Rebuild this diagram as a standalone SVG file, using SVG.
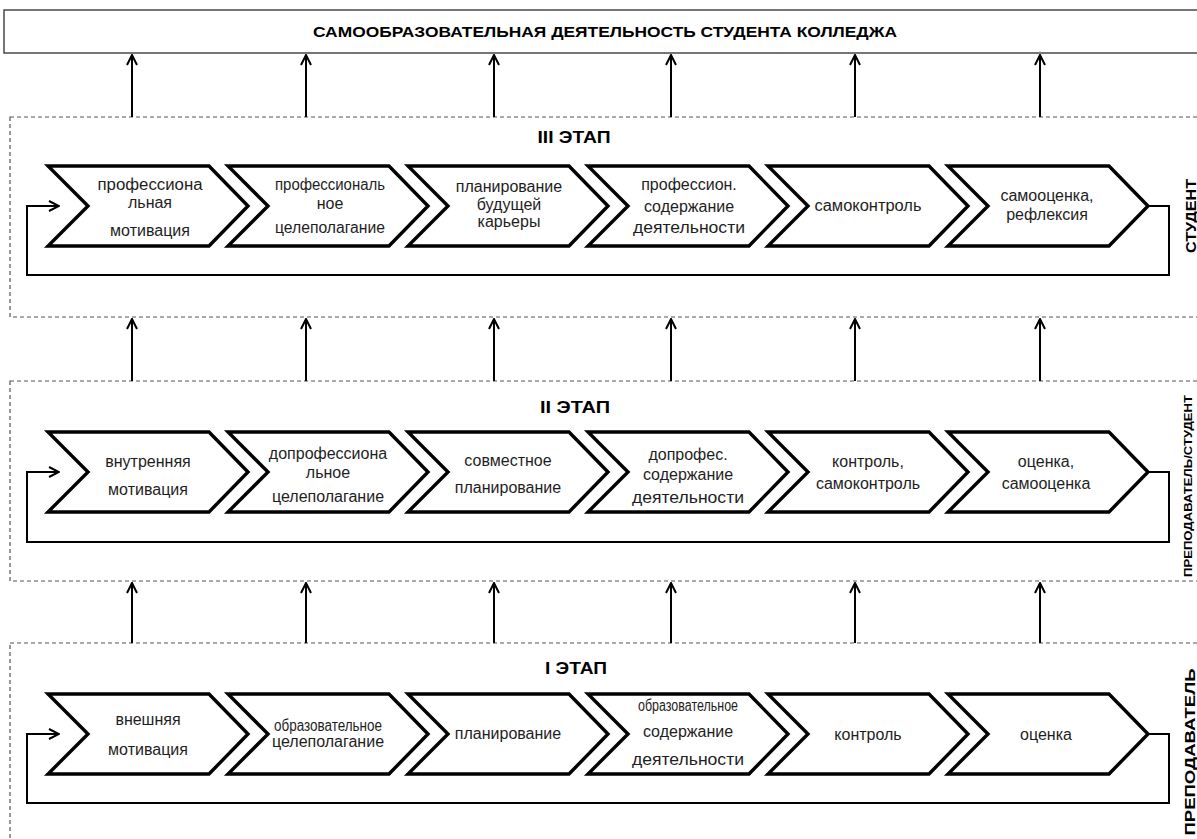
<svg xmlns="http://www.w3.org/2000/svg" width="1197" height="839" viewBox="0 0 1197 839">
<defs>
<style>
.bg{fill:#ffffff}
.top{fill:#ffffff;stroke:#4a4a4a;stroke-width:1.5}
.stage{fill:none;stroke:#555555;stroke-width:1.2;stroke-dasharray:4 3}
.chev{fill:#ffffff;stroke:#000000;stroke-width:3.4;stroke-linejoin:miter}
.conn{fill:none;stroke:#000000;stroke-width:2}
.t{font-family:"Liberation Sans",Arial,sans-serif;fill:#1e1e1e;text-anchor:middle;font-size:16px}
.b{font-family:"Liberation Sans",Arial,sans-serif;fill:#000000;text-anchor:middle;font-weight:bold}
</style>
<marker id="ah" viewBox="0 0 12 12" refX="11" refY="6" markerWidth="12" markerHeight="12" markerUnits="userSpaceOnUse" orient="auto">
<path d="M1,1 L11,6 L1,11" fill="none" stroke="#000" stroke-width="2"/>
</marker>
</defs>
<rect class="bg" x="0" y="0" width="1197" height="839"/>

<g id="title">
<rect class="top" x="4" y="10" width="1200" height="43"/>
<text class="b" x="605" y="37" font-size="15" textLength="584" lengthAdjust="spacingAndGlyphs">САМООБРАЗОВАТЕЛЬНАЯ ДЕЯТЕЛЬНОСТЬ СТУДЕНТА КОЛЛЕДЖА</text>
</g>

<g id="stage3">
<rect class="stage" x="10" y="117" width="1195" height="200"/>
<text class="b" x="574" y="143" font-size="16" textLength="73" lengthAdjust="spacingAndGlyphs">III ЭТАП</text>
<text class="b" font-size="14" transform="translate(1196,216) rotate(-90)" textLength="74" lengthAdjust="spacingAndGlyphs">СТУДЕНТ</text>
</g>
<g id="s3c1"><polygon class="chev" points="48,166 209,166 248,206 209,246 48,246 88,206"/>
<text class="t" x="150" y="190" textLength="105" lengthAdjust="spacingAndGlyphs">профессиона</text><text class="t" x="150" y="208">льная</text><text class="t" x="150" y="236">мотивация</text></g>
<g id="s3c2"><polygon class="chev" points="228,166 389,166 428,206 389,246 228,246 268,206"/>
<text class="t" x="330" y="190" textLength="110" lengthAdjust="spacingAndGlyphs">профессиональ</text><text class="t" x="330" y="209">ное</text><text class="t" x="330" y="233" textLength="110" lengthAdjust="spacingAndGlyphs">целеполагание</text></g>
<g id="s3c3"><polygon class="chev" points="408,166 569,166 608,206 569,246 408,246 448,206"/>
<text class="t" x="509" y="192">планирование</text><text class="t" x="509" y="210">будущей</text><text class="t" x="509" y="227">карьеры</text></g>
<g id="s3c4"><polygon class="chev" points="588,166 749,166 788,206 749,246 588,246 628,206"/>
<text class="t" x="689" y="190">профессион.</text><text class="t" x="689" y="212">содержание</text><text class="t" x="689" y="233" textLength="112" lengthAdjust="spacingAndGlyphs">деятельности</text></g>
<g id="s3c5"><polygon class="chev" points="768,166 929,166 968,206 929,246 768,246 808,206"/>
<text class="t" x="868" y="211" textLength="107" lengthAdjust="spacingAndGlyphs">самоконтроль</text></g>
<g id="s3c6"><polygon class="chev" points="948,166 1109,166 1148,206 1109,246 948,246 988,206"/>
<text class="t" x="1047" y="201">самооценка,</text><text class="t" x="1047" y="220">рефлексия</text></g>

<g id="stage2">
<rect class="stage" x="10" y="381" width="1195" height="200"/>
<text class="b" x="575" y="413" font-size="16" textLength="70" lengthAdjust="spacingAndGlyphs">II ЭТАП</text>
<text class="b" font-size="11" transform="translate(1192,486) rotate(-90)" textLength="182" lengthAdjust="spacingAndGlyphs">ПРЕПОДАВАТЕЛЬ/СТУДЕНТ</text>
</g>
<g id="s2c1"><polygon class="chev" points="48,432 209,432 248,472 209,512 48,512 88,472"/>
<text class="t" x="148" y="467" font-size="16.5">внутренняя</text><text class="t" x="148" y="495" font-size="16.5">мотивация</text></g>
<g id="s2c2"><polygon class="chev" points="228,432 389,432 428,472 389,512 228,512 268,472"/>
<text class="t" x="328" y="459" font-size="14.5">допрофессиона</text><text class="t" x="328" y="478" font-size="14.5">льное</text><text class="t" x="328" y="502" font-size="14.5">целеполагание</text></g>
<g id="s2c3"><polygon class="chev" points="408,432 569,432 608,472 569,512 408,512 448,472"/>
<text class="t" x="508" y="466" font-size="14.5">совместное</text><text class="t" x="508" y="493" font-size="14.5">планирование</text></g>
<g id="s2c4"><polygon class="chev" points="588,432 749,432 788,472 749,512 588,512 628,472"/>
<text class="t" x="688" y="460" font-size="15">допрофес.</text><text class="t" x="688" y="480">содержание</text><text class="t" x="688" y="503" textLength="112" lengthAdjust="spacingAndGlyphs">деятельности</text></g>
<g id="s2c5"><polygon class="chev" points="768,432 929,432 968,472 929,512 768,512 808,472"/>
<text class="t" x="868" y="467">контроль,</text><text class="t" x="868" y="489" font-size="13.5">самоконтроль</text></g>
<g id="s2c6"><polygon class="chev" points="948,432 1109,432 1148,472 1109,512 948,512 988,472"/>
<text class="t" x="1046" y="467">оценка,</text><text class="t" x="1046" y="489" font-size="15">самооценка</text></g>

<g id="stage1">
<rect class="stage" x="10" y="643" width="1195" height="215"/>
<text class="b" x="576" y="674" font-size="16" textLength="62" lengthAdjust="spacingAndGlyphs">I ЭТАП</text>
<text class="b" font-size="15.5" transform="translate(1195,752) rotate(-90)" textLength="167" lengthAdjust="spacingAndGlyphs">ПРЕПОДАВАТЕЛЬ</text>
</g>
<g id="s1c1"><polygon class="chev" points="48,694 209,694 248,734 209,774 48,774 88,734"/>
<text class="t" x="148" y="725">внешняя</text><text class="t" x="148" y="755">мотивация</text></g>
<g id="s1c2"><polygon class="chev" points="228,694 389,694 428,734 389,774 228,774 268,734"/>
<text class="t" x="328" y="731" font-size="13" textLength="108" lengthAdjust="spacingAndGlyphs">образовательное</text><text class="t" x="328" y="747" font-size="13">целеполагание</text></g>
<g id="s1c3"><polygon class="chev" points="408,694 569,694 608,734 569,774 408,774 448,734"/>
<text class="t" x="508" y="739" font-size="14">планирование</text></g>
<g id="s1c4"><polygon class="chev" points="588,694 749,694 788,734 749,774 588,774 628,734"/>
<text class="t" x="688" y="711" font-size="11.5" textLength="100" lengthAdjust="spacingAndGlyphs">образовательное</text><text class="t" x="688" y="737">содержание</text><text class="t" x="688" y="765" textLength="112" lengthAdjust="spacingAndGlyphs">деятельности</text></g>
<g id="s1c5"><polygon class="chev" points="768,694 929,694 968,734 929,774 768,774 808,734"/>
<text class="t" x="868" y="740">контроль</text></g>
<g id="s1c6"><polygon class="chev" points="948,694 1109,694 1148,734 1109,774 948,774 988,734"/>
<text class="t" x="1046" y="740">оценка</text></g>

<g id="connectors">
<path class="conn" d="M1148,206 H1169 V275 H27 V206 H59" marker-end="url(#ah)"/>
<path class="conn" d="M1148,472 H1169 V542 H27 V472 H59" marker-end="url(#ah)"/>
<path class="conn" d="M1148,734 H1169 V803 H27 V734 H59" marker-end="url(#ah)"/>
<line class="conn" x1="132" y1="117" x2="132" y2="55" marker-end="url(#ah)"/>
<line class="conn" x1="306" y1="117" x2="306" y2="55" marker-end="url(#ah)"/>
<line class="conn" x1="494" y1="117" x2="494" y2="55" marker-end="url(#ah)"/>
<line class="conn" x1="671" y1="117" x2="671" y2="55" marker-end="url(#ah)"/>
<line class="conn" x1="855" y1="117" x2="855" y2="55" marker-end="url(#ah)"/>
<line class="conn" x1="1040" y1="117" x2="1040" y2="55" marker-end="url(#ah)"/>
<line class="conn" x1="132" y1="381" x2="132" y2="319" marker-end="url(#ah)"/>
<line class="conn" x1="306" y1="381" x2="306" y2="319" marker-end="url(#ah)"/>
<line class="conn" x1="494" y1="381" x2="494" y2="319" marker-end="url(#ah)"/>
<line class="conn" x1="671" y1="381" x2="671" y2="319" marker-end="url(#ah)"/>
<line class="conn" x1="855" y1="381" x2="855" y2="319" marker-end="url(#ah)"/>
<line class="conn" x1="1040" y1="381" x2="1040" y2="319" marker-end="url(#ah)"/>
<line class="conn" x1="132" y1="643" x2="132" y2="583" marker-end="url(#ah)"/>
<line class="conn" x1="306" y1="643" x2="306" y2="583" marker-end="url(#ah)"/>
<line class="conn" x1="494" y1="643" x2="494" y2="583" marker-end="url(#ah)"/>
<line class="conn" x1="671" y1="643" x2="671" y2="583" marker-end="url(#ah)"/>
<line class="conn" x1="855" y1="643" x2="855" y2="583" marker-end="url(#ah)"/>
<line class="conn" x1="1040" y1="643" x2="1040" y2="583" marker-end="url(#ah)"/>
</g>
</svg>
